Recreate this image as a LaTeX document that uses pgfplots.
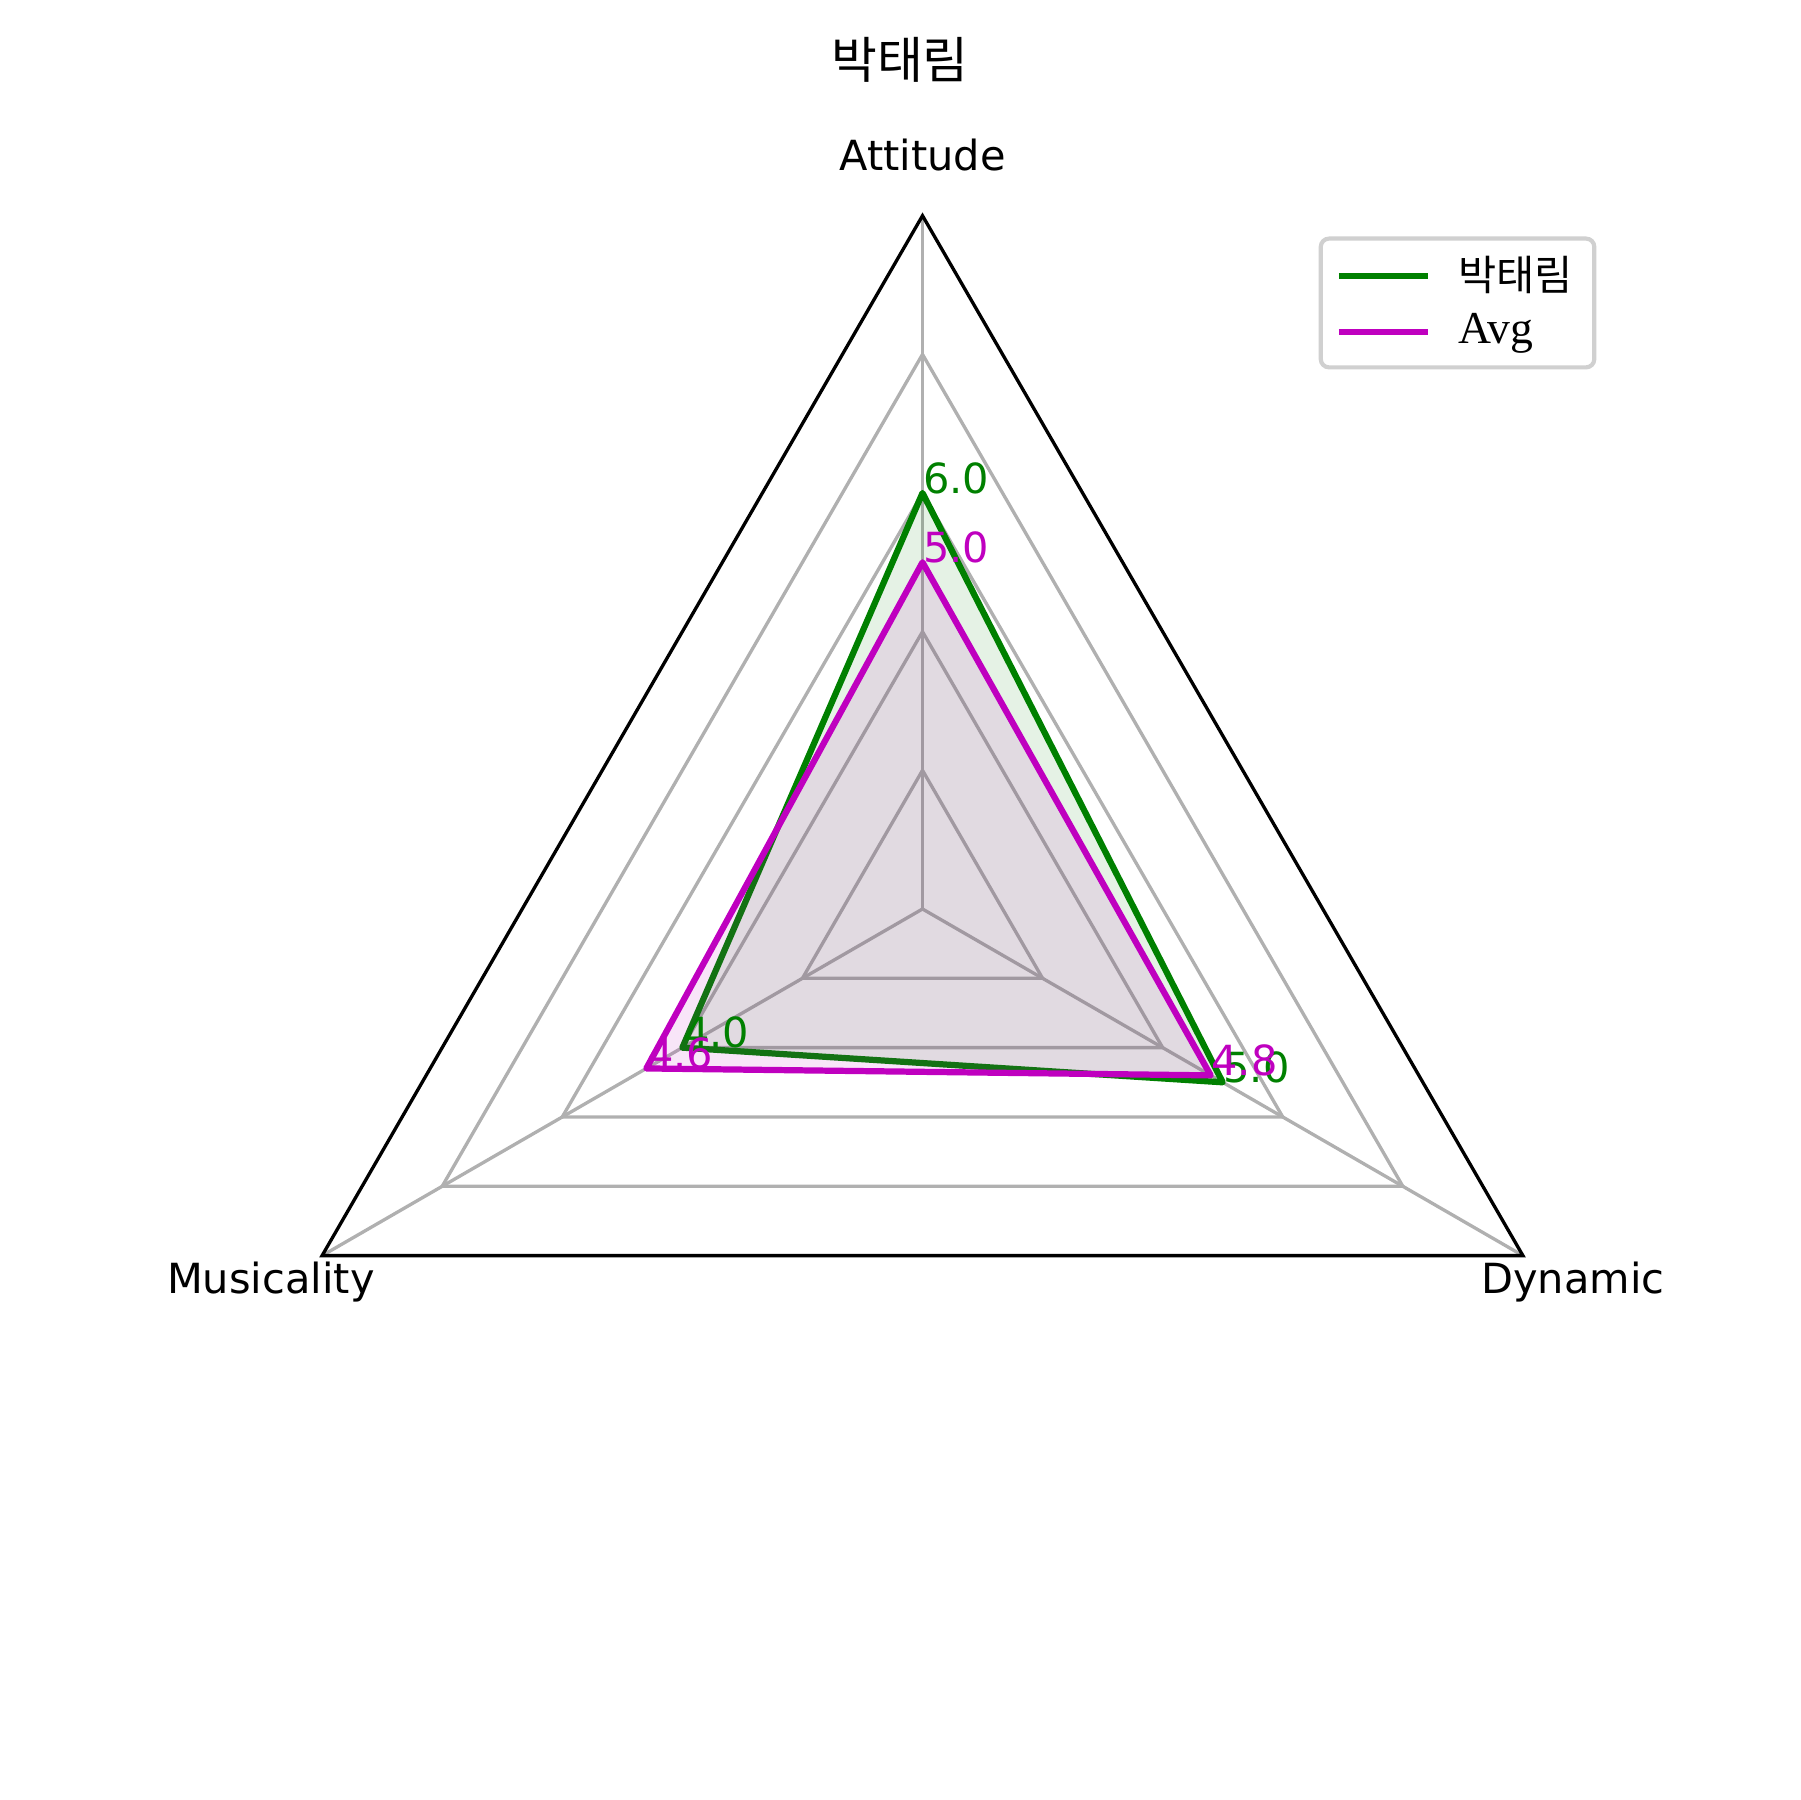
\documentclass[border=0pt]{standalone}
\usepackage{fontspec}
\setmainfont{DejaVu Sans}
\newfontfamily\kr{Noto Sans CJK KR}
\newfontfamily\serif{Liberation Serif}
\usepackage{pgfplots}
\pgfplotsset{compat=1.18}
\definecolor{mgreen}{RGB}{0,128,0}
\definecolor{mmag}{RGB}{191,0,191}
\definecolor{mgrid}{HTML}{B0B0B0}
\definecolor{legedge}{HTML}{D0D0D0}
\begin{document}
\begin{tikzpicture}
\path[use as bounding box] (0,0) rectangle (6in,6in);
\node[font=\kr\fontsize{12}{14}\selectfont] at (3in,5.80in) {박태림};
\begin{axis}[
  at={(3.075in,2.97in)}, anchor=center,
  x=0.2311in, y=0.2311in,
  xmin=-10, xmax=10, ymin=-10, ymax=10,
  enlargelimits=false, hide axis, clip=false,
  legend style={at={(axis cs:9.72,9.70)}, anchor=north east,
    draw=legedge, line width=1pt, rounded corners=2pt,
    font=\fontsize{10}{12}\selectfont, cells={anchor=west},
    inner xsep=3.6pt, inner ysep=2.55pt, nodes={inner sep=1.6pt}, column sep=4.8pt, row sep=1pt},
  legend image code/.code={\draw[#1] (0pt,0pt) -- (21.6pt,0pt);},
]
% grid
\addplot[mgrid, line width=0.8pt, data cs=polar, forget plot] coordinates {(90,2) (330,2) (210,2)} -- cycle;
\addplot[mgrid, line width=0.8pt, data cs=polar, forget plot] coordinates {(90,4) (330,4) (210,4)} -- cycle;
\addplot[mgrid, line width=0.8pt, data cs=polar, forget plot] coordinates {(90,6) (330,6) (210,6)} -- cycle;
\addplot[mgrid, line width=0.8pt, data cs=polar, forget plot] coordinates {(90,8) (330,8) (210,8)} -- cycle;
\addplot[mgrid, line width=0.8pt, data cs=polar, forget plot] coordinates {(90,0) (90,10)};
\addplot[mgrid, line width=0.8pt, data cs=polar, forget plot] coordinates {(330,0) (330,10)};
\addplot[mgrid, line width=0.8pt, data cs=polar, forget plot] coordinates {(210,0) (210,10)};
\addplot[black, line width=0.8pt, data cs=polar, forget plot] coordinates {(90,10) (330,10) (210,10)} -- cycle;
% player
\addplot[mgreen, line width=1.5pt, line join=round, data cs=polar] coordinates {(90,6) (330,5) (210,4)} -- cycle;
\addplot[draw=none, fill=mgreen, fill opacity=0.1, data cs=polar, forget plot] coordinates {(90,6) (330,5) (210,4)} -- cycle;
% average
\addplot[mmag, line width=1.5pt, line join=round, data cs=polar] coordinates {(90,5) (330,4.8) (210,4.6)} -- cycle;
\addplot[draw=none, fill=mmag, fill opacity=0.1, data cs=polar, forget plot] coordinates {(90,5) (330,4.8) (210,4.6)} -- cycle;
\legend{{\kr 박태림},{\serif\fontsize{11}{13}\selectfont Avg}}
% axis labels
\node[font=\fontsize{10}{12}\selectfont] at (axis cs:0,10.87) {Attitude};
\node[font=\fontsize{10}{12}\selectfont] at (axis cs:9.38,-5.38) {Dynamic};
\node[font=\fontsize{10}{12}\selectfont] at (axis cs:-9.40,-5.38) {Musicality};
% value labels
\node[mgreen, anchor=base west, inner sep=0pt, font=\fontsize{10}{12}\selectfont] at (axis cs:0,6) {6.0};
\node[mgreen, anchor=base west, inner sep=0pt, font=\fontsize{10}{12}\selectfont] at (axis cs:4.330,-2.5) {5.0};
\node[mgreen, anchor=base west, inner sep=0pt, font=\fontsize{10}{12}\selectfont] at (axis cs:-3.464,-2) {4.0};
\node[mmag, anchor=base west, inner sep=0pt, font=\fontsize{10}{12}\selectfont] at (axis cs:0,5) {5.0};
\node[mmag, anchor=base west, inner sep=0pt, font=\fontsize{10}{12}\selectfont] at (axis cs:4.157,-2.4) {4.8};
\node[mmag, anchor=base west, inner sep=0pt, font=\fontsize{10}{12}\selectfont] at (axis cs:-3.984,-2.3) {4.6};
\end{axis}
\end{tikzpicture}
\end{document}
